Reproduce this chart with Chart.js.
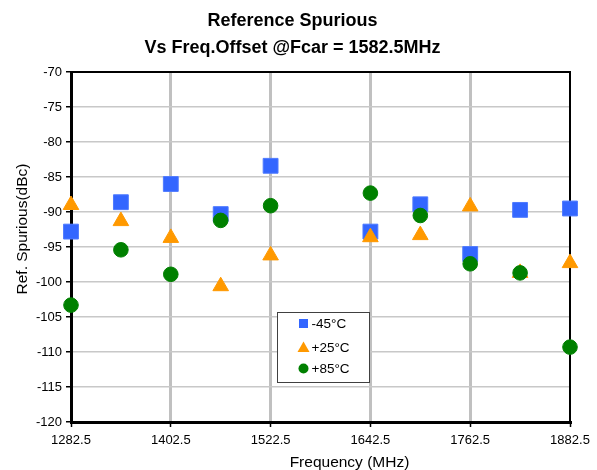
<!DOCTYPE html>
<html>
<head>
<meta charset="utf-8">
<script src="https://cdn.jsdelivr.net/npm/chart.js"></script>
<style>
  html, body { margin: 0; padding: 0; background: #fff; }
</style>
</head>
<body>
<canvas id="spur-chart" width="597" height="470"></canvas>
<script>
// frequencies (MHz) where spurious was measured, carrier 1582.5 skipped
const freqs = [1282.5, 1342.5, 1402.5, 1462.5, 1522.5, 1642.5, 1702.5, 1762.5, 1822.5, 1882.5];

const minus45 = [-92.8, -88.6, -86.0, -90.3, -83.4, -92.8, -88.9, -96.0, -89.7, -89.5];
const plus25  = [-89.0, -91.3, -93.7, -100.6, -96.2, -93.6, -93.3, -89.2, -98.7, -97.3];
const plus85  = [-103.3, -95.4, -98.9, -91.2, -89.1, -87.3, -90.5, -97.4, -98.7, -109.3];

const seriesNames = ['-45\u00B0C', '+25\u00B0C', '+85\u00B0C'];
const xTicks = [1282.5, 1402.5, 1522.5, 1642.5, 1762.5, 1882.5];

const FONT = 'Arial, "Liberation Sans", sans-serif';

function toPoints(vals) {
    return freqs.map((f, i) => ({ x: f, y: vals[i] }));
}

// axis titles drawn by hand so they can sit off-centre like the original
const axisTitles = {
    id: 'axisTitles',
    afterDraw(chart) {
        const ctx = chart.ctx;
        ctx.save();
        ctx.fillStyle = '#000';
        ctx.font = '15.5px ' + FONT;
        ctx.textAlign = 'center';
        ctx.textBaseline = 'alphabetic';
        ctx.fillText('Frequency (MHz)', 349.5, 466.5);
        ctx.translate(26.5, 229);
        ctx.rotate(-Math.PI / 2);
        ctx.fillText('Ref. Spurious(dBc)', 0, 0);
        ctx.restore();
    }
};

// boxed legend inside the plot area
const legendBox = {
    id: 'legendBox',
    afterDatasetsDraw(chart) {
        const { ctx, chartArea } = chart;
        const bx = chartArea.left + 206.5, by = chartArea.top + 240.5;
        const bw = 92, bh = 70;
        ctx.save();
        ctx.fillStyle = '#fff';
        ctx.fillRect(bx, by, bw, bh);
        ctx.strokeStyle = '#404040';
        ctx.lineWidth = 1;
        ctx.strokeRect(bx, by, bw, bh);

        const rows = [11, 35, 56];
        ctx.font = '13.5px ' + FONT;
        ctx.textBaseline = 'middle';
        ctx.textAlign = 'left';
        chart.data.datasets.forEach((ds, i) => {
            const mx = bx + 26, my = by + rows[i];
            ctx.fillStyle = ds.backgroundColor;
            ctx.beginPath();
            if (ds.pointStyle === 'rect') {
                ctx.rect(mx - 4.5, my - 4.5, 9, 9);
            } else if (ds.pointStyle === 'triangle') {
                ctx.moveTo(mx, my - 6);
                ctx.lineTo(mx + 6, my + 4.5);
                ctx.lineTo(mx - 6, my + 4.5);
                ctx.closePath();
            } else {
                ctx.arc(mx, my, 5, 0, Math.PI * 2);
            }
            ctx.fill();
            ctx.fillStyle = '#000';
            ctx.fillText(ds.label, bx + 34, my + 0.5);
        });
        ctx.restore();
    }
};

const data = {
    datasets: [{
        label: seriesNames[0],
        data: toPoints(minus45),
        order: 3,
        clip: false,
        pointStyle: 'rect',
        pointRadius: 10.5,
        backgroundColor: '#3366ff',
        borderColor: '#4f7bff',
        borderWidth: 1
    }, {
        label: seriesNames[1],
        data: toPoints(plus25),
        order: 2,
        clip: false,
        pointStyle: 'triangle',
        pointRadius: 9,
        backgroundColor: '#ff9900',
        borderColor: '#ff9900',
        borderWidth: 1
    }, {
        label: seriesNames[2],
        data: toPoints(plus85),
        order: 1,
        clip: false,
        pointStyle: 'circle',
        pointRadius: 7.3,
        backgroundColor: '#008000',
        borderColor: '#008000',
        borderWidth: 1
    }]
};

const config = {
    type: 'scatter',
    data: data,
    options: {
        responsive: false,
        animation: false,
        events: [],
        layout: { padding: { left: 0, right: 12, top: 0, bottom: 0 } },
        plugins: {
            legend: { display: false },
            tooltip: { enabled: false },
            title: {
                display: true,
                text: ['Reference Spurious', 'Vs Freq.Offset @Fcar = 1582.5MHz'],
                color: '#000',
                font: { family: FONT, size: 18, weight: 'bold', lineHeight: 1.5 },
                padding: { top: 8, bottom: 10 }
            }
        },
        scales: {
            x: {
                type: 'linear',
                position: 'bottom',
                min: 1282.5,
                max: 1882.5,
                afterBuildTicks(scale) {
                    scale.ticks = xTicks.map(v => ({ value: v }));
                },
                afterFit(scale) { scale.height = 48; },
                ticks: {
                    color: '#000',
                    font: { family: FONT, size: 13 },
                    padding: 6,
                    maxRotation: 0,
                    callback: v => v.toFixed(1)
                },
                grid: {
                    color: c => (c.tick && (c.tick.value === xTicks[0] || c.tick.value === xTicks[xTicks.length - 1])) ? 'rgba(0,0,0,0)' : '#c0c0c0',
                    lineWidth: 3,
                    tickColor: '#000',
                    tickWidth: 1.5,
                    tickLength: 5
                },
                border: { color: '#000', width: 3 }
            },
            x2: {
                type: 'linear',
                position: 'top',
                afterFit(scale) { scale.height = 0; },
                ticks: { display: false },
                grid: { drawOnChartArea: false, drawTicks: false },
                border: { color: '#000', width: 2 }
            },
            y: {
                min: -120,
                max: -70,
                afterFit(scale) { scale.width = 71; },
                ticks: {
                    stepSize: 5,
                    color: '#000',
                    font: { family: FONT, size: 13 },
                    padding: 4
                },
                grid: {
                    color: '#c8c8c8',
                    lineWidth: 1.5,
                    tickColor: '#000',
                    tickWidth: 1.5,
                    tickLength: 5
                },
                border: { color: '#000', width: 3 }
            },
            y2: {
                type: 'linear',
                position: 'right',
                afterFit(scale) { scale.width = 15; },
                ticks: { display: false },
                grid: { drawOnChartArea: false, drawTicks: false },
                border: { color: '#000', width: 2 }
            }
        }
    },
    plugins: [axisTitles, legendBox]
};

const spurChart = new Chart(document.getElementById('spur-chart'), config);
</script>
</body>
</html>
